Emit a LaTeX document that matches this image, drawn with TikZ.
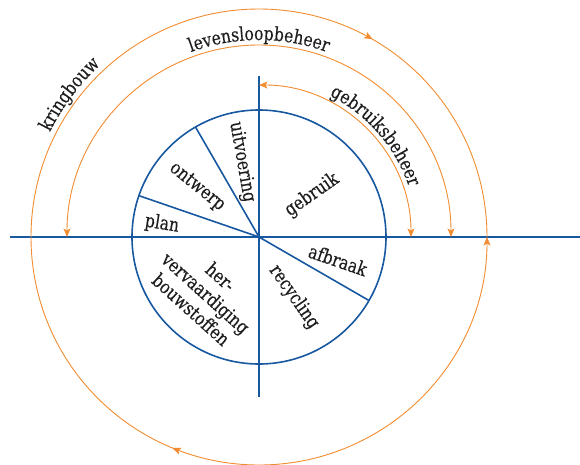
\documentclass[tikz,border=0pt]{standalone}
\usepackage{fontspec}
\setmainfont{DejaVu Serif}[FakeStretch=0.82,FakeBold=0.25]
\usetikzlibrary{arrows.meta,decorations.markings,decorations.text}
\definecolor{axisblue}{RGB}{24,88,160}
\definecolor{cycleorange}{RGB}{242,140,48}
\definecolor{labelgray}{RGB}{30,30,30}
\newcommand{\arcfont}{\color{labelgray}\fontsize{19}{22}\selectfont}
\tikzset{cycletip/.tip={Stealth[length=8.5pt,width=7pt,inset=2pt]}}
\begin{document}
\begin{tikzpicture}[x=1pt,y=1pt,
  axisline/.style={draw=axisblue, line width=1.1pt},
  wheel/.style={draw=axisblue, line width=1.6pt},
  cyclearc/.style={draw=cycleorange, line width=0.9pt},
  seglabel/.style={text=labelgray, font=\fontsize{19}{22}\selectfont, inner sep=0pt},
  arclabel/.style={decorate, decoration={text along path, text align=center, text={|\arcfont|#1}}}
]
\useasboundingbox (-259,-227) rectangle (321,237);
\coordinate (C) at (0,0);

% axes
\draw[axisline] (-249,0) -- (321,0);
\draw[axisline] (0,161) -- (0,-160);

% wheel of phases
\draw[wheel] (C) circle[radius=127];
\foreach \a in {120,161,-30,90,-90} \draw[wheel] (C) -- (\a:127);

% outer cycle: kringbouw
\draw[cyclearc, -{cycletip},
  postaction={decorate, decoration={markings,
    mark=at position 0.167 with {\arrowreversed{cycletip}},
    mark=at position 0.688 with {\arrowreversed{cycletip}}}}]
  (0:228) arc[start angle=0, end angle=360, radius=228];

% levensloopbeheer
\draw[cyclearc, {cycletip}-{cycletip}] (180:192) arc[start angle=180, end angle=0, radius=192];
% gebruiksbeheer
\draw[cyclearc, {cycletip}-{cycletip}] (90:152) arc[start angle=90, end angle=0, radius=152];

% labels along the arcs
\path[arclabel=kringbouw] (173:234) arc[start angle=173, end angle=113, radius=234];
\path[arclabel=levensloopbeheer] (140:197) arc[start angle=140, end angle=40, radius=197];
\path[arclabel=gebruiksbeheer] (86:158) arc[start angle=86, end angle=-4, radius=158];

% phase labels
\node[seglabel, rotate=-80] (uitv) at (-17,75) {uitvoering};
\node[seglabel, rotate=-39] (ontw) at (-62,50) {ontwerp};
\node[seglabel, rotate=-9] (plan) at (-97,13) {plan};
\node[seglabel, rotate=35] (gebr) at (53,42) {gebruik};
\node[seglabel, rotate=-19] (afbr) at (79,-23) {afbraak};
\node[seglabel, rotate=-55] (recy) at (35,-60) {recycling};
\node[seglabel, rotate=-42, align=center] (herv) at (-53,-56) {her-\\vervaardiging\\bouwstoffen};
\end{tikzpicture}
\end{document}
